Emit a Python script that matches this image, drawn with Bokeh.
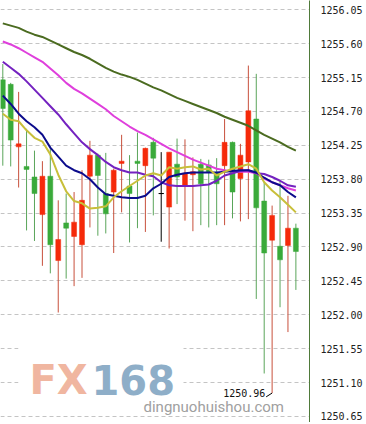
from bokeh.plotting import figure
from bokeh.models import Range1d, LinearAxis, FixedTicker, Grid, Label, ColumnDataSource
from bokeh.embed import file_html
from bokeh.resources import INLINE

# ---- candles (one per bar, oldest first) ----
opens = [1255.12, 1255.06, 1254.23, 1253.97, 1253.83, 1253.33, 1253.84, 1252.72, 1253.22, 1253.04,
         1252.93, 1253.84, 1254.12, 1253.61, 1253.63, 1254.01, 1253.71, 1254.04, 1253.98, 1254.29,
         1253.61, 1253.43, 1254.00, 1253.72, 1253.86, 1254.00, 1253.99, 1253.89, 1253.98, 1254.29,
         1253.81, 1254.03, 1254.60, 1253.51, 1252.99, 1252.91, 1252.92, 1253.15]
highs = [1255.33, 1255.08, 1254.96, 1254.47, 1254.18, 1254.04, 1254.23, 1253.52, 1253.61, 1253.63,
         1253.92, 1254.31, 1254.14, 1254.15, 1253.94, 1254.39, 1254.12, 1254.42, 1254.22, 1254.35,
         1254.16, 1254.16, 1254.34, 1254.33, 1254.09, 1254.07, 1254.06, 1254.08, 1254.60, 1254.30,
         1254.27, 1255.31, 1255.20, 1253.76, 1253.45, 1253.78, 1253.58, 1253.21]
lows = [1253.98, 1253.97, 1253.69, 1253.12, 1252.98, 1252.65, 1252.55, 1252.03, 1252.48, 1252.38,
        1252.49, 1253.16, 1253.05, 1253.08, 1252.82, 1253.36, 1252.96, 1253.15, 1253.10, 1253.32,
        1252.97, 1252.88, 1253.47, 1253.25, 1253.11, 1253.19, 1253.16, 1253.19, 1253.19, 1253.28,
        1253.24, 1253.27, 1252.21, 1251.22, 1250.96, 1252.10, 1251.77, 1252.33]
closes = [1254.74, 1254.32, 1254.27, 1253.93, 1253.61, 1253.84, 1252.93, 1253.00, 1253.15, 1253.23,
          1253.52, 1254.12, 1253.85, 1253.34, 1253.92, 1254.04, 1253.61, 1254.01, 1254.21, 1254.08,
          1253.61, 1254.16, 1253.83, 1253.88, 1253.90, 1253.74, 1253.89, 1253.74, 1254.29, 1253.63,
          1254.12, 1254.71, 1253.42, 1252.82, 1253.32, 1252.73, 1253.15, 1252.84]

# ---- moving averages at each bar ----
ma5 = [1254.67, 1254.59, 1254.57, 1254.45, 1254.35, 1254.30, 1254.13, 1253.86, 1253.64, 1253.51,
       1253.48, 1253.41, 1253.42, 1253.44, 1253.56, 1253.64, 1253.71, 1253.78, 1253.85, 1253.88,
       1253.85, 1253.96, 1253.94, 1253.96, 1253.97, 1253.93, 1253.94, 1253.85, 1253.90, 1253.94,
       1253.97, 1254.00, 1253.94, 1253.76, 1253.65, 1253.56, 1253.46, 1253.36]
ma10 = [1254.91, 1254.80, 1254.67, 1254.57, 1254.49, 1254.39, 1254.22, 1254.10, 1253.98, 1253.92,
        1253.88, 1253.80, 1253.69, 1253.60, 1253.58, 1253.56, 1253.55, 1253.55, 1253.58, 1253.68,
        1253.74, 1253.83, 1253.86, 1253.88, 1253.89, 1253.89, 1253.89, 1253.89, 1253.90, 1253.91,
        1253.92, 1253.92, 1253.89, 1253.82, 1253.76, 1253.72, 1253.63, 1253.56]
ma20 = [1255.36, 1255.28, 1255.20, 1255.10, 1254.99, 1254.88, 1254.77, 1254.66, 1254.53, 1254.41,
        1254.29, 1254.20, 1254.12, 1254.03, 1253.96, 1253.92, 1253.89, 1253.89, 1253.86, 1253.84,
        1253.76, 1253.72, 1253.71, 1253.71, 1253.71, 1253.72, 1253.73, 1253.78, 1253.85, 1253.88,
        1253.91, 1253.92, 1253.88, 1253.87, 1253.83, 1253.78, 1253.72, 1253.70]
ma30 = [1255.63, 1255.59, 1255.54, 1255.48, 1255.42, 1255.36, 1255.27, 1255.18, 1255.08, 1255.00,
        1254.94, 1254.87, 1254.80, 1254.73, 1254.64, 1254.57, 1254.50, 1254.44, 1254.39, 1254.33,
        1254.27, 1254.21, 1254.16, 1254.11, 1254.06, 1254.02, 1253.98, 1253.94, 1253.92, 1253.90,
        1253.90, 1253.90, 1253.88, 1253.81, 1253.76, 1253.72, 1253.68, 1253.65]
ma60 = [1255.87, 1255.84, 1255.81, 1255.76, 1255.72, 1255.69, 1255.64, 1255.59, 1255.54, 1255.49,
        1255.45, 1255.40, 1255.34, 1255.28, 1255.23, 1255.19, 1255.16, 1255.12, 1255.07, 1255.02,
        1254.98, 1254.93, 1254.88, 1254.84, 1254.80, 1254.76, 1254.72, 1254.68, 1254.63, 1254.59,
        1254.55, 1254.51, 1254.45, 1254.39, 1254.34, 1254.29, 1254.23, 1254.18]

# ---- price scale ----
tick_values = [1250.65, 1251.10, 1251.55, 1252.00, 1252.45, 1252.90, 1253.35,
               1253.80, 1254.25, 1254.70, 1255.15, 1255.60, 1256.05]
tick_labels = ["1250.65", "1251.10", "1251.55", "1252.00", "1252.45", "1252.90", "1253.35",
               "1253.80", "1254.25", "1254.70", "1255.15", "1255.60", "1256.05"]

UP_BODY, UP_WICK = "#f52a0a", "#c8503c"
DN_BODY, DN_WICK = "#3aaa3a", "#5aa55a"
FLAT = "#000000"

n = len(opens)
xs = list(range(n))
body_col, wick_col, tops, bots = [], [], [], []
for o, c in zip(opens, closes):
    if c > o:
        body_col.append(UP_BODY); wick_col.append(UP_WICK)
    elif c < o:
        body_col.append(DN_BODY); wick_col.append(DN_WICK)
    else:
        body_col.append(FLAT); wick_col.append(FLAT)
    tops.append(max(o, c))
    bots.append(min(o, c))

src = ColumnDataSource(dict(x=xs, o=opens, h=highs, l=lows, c=closes,
                            top=tops, bot=bots, bc=body_col, wc=wick_col))

FW, FH = 309, 422
xr = Range1d(-0.29, 38.72)
yr = Range1d(1250.569, 1256.174)

p = figure(frame_width=FW, frame_height=FH, x_range=xr, y_range=yr,
           output_backend="svg", toolbar_location=None,
           x_axis_location=None, y_axis_location=None,
           min_border_left=0, min_border_top=0, min_border_right=0, min_border_bottom=0,
           background_fill_color="white", border_fill_color="white")
p.outline_line_color = None
for g in p.grid:
    g.visible = False


def sx(px):
    return xr.start + px / FW * (xr.end - xr.start)


def sy(py):
    return yr.end - py / FH * (yr.end - yr.start)


yticker = FixedTicker(ticks=tick_values)
p.add_layout(Grid(dimension=1, ticker=yticker, grid_line_color="#c4c4c4",
                  grid_line_dash="4 3", grid_line_width=1))

yaxis = LinearAxis(ticker=yticker,
                   major_label_overrides={v: s for v, s in zip(tick_values, tick_labels)},
                   major_tick_line_color=None, minor_tick_line_color=None,
                   major_tick_in=0, major_tick_out=0, minor_tick_in=0, minor_tick_out=0,
                   major_label_standoff=11, axis_line_color="#4f7a3a", axis_line_width=1,
                   major_label_text_font="DejaVu Sans Mono", major_label_text_font_size="10px",
                   major_label_text_color="#222222")
p.add_layout(yaxis, "right")

xaxis = LinearAxis(ticker=FixedTicker(ticks=[]), major_label_text_font_size="0px",
                   major_tick_line_color=None, minor_tick_line_color=None,
                   major_tick_in=0, major_tick_out=0, minor_tick_in=0, minor_tick_out=0,
                   major_label_standoff=0, axis_line_color="#8a8a3c", axis_line_width=1)
p.add_layout(xaxis, "below")

# watermark panel that hides the lower grid lines
p.quad(left=sx(18), right=sx(183), top=sy(341), bottom=sy(391),
       fill_color="white", line_color=None)
p.add_layout(Label(x=sx(29), y=sy(379), text="FX", text_baseline="alphabetic",
                   text_font="DejaVu Sans", text_font_style="bold",
                   text_font_size="40px", text_color="#f0b6a0"))
p.add_layout(Label(x=sx(91), y=sy(379), text="168", text_baseline="alphabetic",
                   text_font="DejaVu Sans", text_font_style="bold",
                   text_font_size="40px", text_color="#8eaec8"))
p.add_layout(Label(x=sx(143), y=sy(406), text="dingnuohuishou.com", text_font="Roboto",
                   text_baseline="alphabetic", text_font_size="15px", text_color="#a0a0a0"))

# wicks and bodies
p.segment(x0="x", y0="l", x1="x", y1="h", line_color="wc", line_width=1, source=src)
p.vbar(x="x", top="top", bottom="bot", width=0.62, fill_color="bc", line_color="bc",
       line_width=0.5, source=src)
flat = [i for i in xs if opens[i] == closes[i]]
p.segment(x0=[i - 0.31 for i in flat], x1=[i + 0.31 for i in flat],
          y0=[opens[i] for i in flat], y1=[opens[i] for i in flat],
          line_color=FLAT, line_width=1)

# moving averages
for vals, col in [(ma60, "#4b6b20"), (ma30, "#df3fdc"), (ma20, "#7422c0"),
                  (ma10, "#0c0c8c"), (ma5, "#c8bf3a")]:
    p.line(xs, vals, line_color=col, line_width=2)

# lowest low marker
lo_i = min(range(n), key=lambda i: lows[i])
lo_v = lows[lo_i]
p.segment(x0=[lo_i - 0.75], y0=[lo_v - 0.05], x1=[lo_i], y1=[lo_v], line_color="#000000", line_width=1)
p.add_layout(Label(x=lo_i - 0.85, y=lo_v, text=f"{lo_v:.2f}", text_align="right",
                   text_baseline="middle", text_font="DejaVu Sans Mono",
                   text_font_size="10px", text_color="#111111"))

open("out.html", "w").write(file_html(p, INLINE))
